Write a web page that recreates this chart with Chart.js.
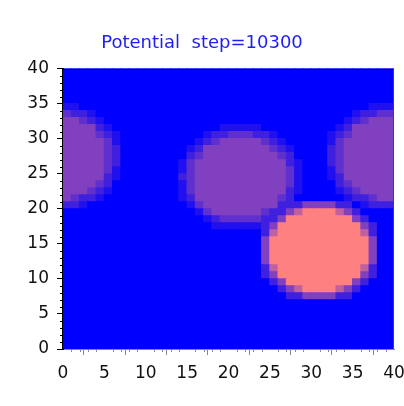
<!DOCTYPE html>
<html><head><meta charset="utf-8">
<script src="https://cdn.jsdelivr.net/npm/chart.js@4.4.0/dist/chart.umd.min.js"></script>
<style>html,body{margin:0;padding:0;background:#fff;}#wrap{width:404px;height:406px;}</style>
</head><body><div id="wrap"><canvas id="c" width="404" height="406"></canvas></div>
<script>
const titleText = 'Potential  step=10300';
const xTicks = [0, 5, 10, 15, 20, 25, 30, 35, 40];
const yTicks = [0, 5, 10, 15, 20, 25, 30, 35, 40];
const gridSize = 40;
const maxLevel = 8;           // 0 = low (blue), 8 = high (salmon)
const lowColor = [0, 0, 255];
const highColor = [255, 128, 128];
// potential levels, one string per grid row, top row (y 39..40) first, x from 0 to 40
const potentialRows = [
  '0000000000 0000000000 0000000000 0000000000',
  '0000000000 0000000000 0000000000 0000000000',
  '0000000000 0000000000 0000000000 0000000000',
  '0000000000 0000000000 0000000000 0000000000',
  '0000000000 0000000000 0000000000 0000000000',
  '1100000000 0000000000 0000000000 0000000111',
  '3221000000 0000000000 0000000000 0000012233',
  '4432100000 0000000000 0000000000 0000123444',
  '4444210000 0000000001 1111000000 0001244444',
  '4444321000 0000000122 3332210000 0012344444',
  '4444431000 0000001234 4444321000 0013444444',
  '4444432000 0000012444 4444432100 0023444444',
  '4444432000 0000023444 4444443200 0023444444',
  '4444432000 0000134444 4444444210 0023444444',
  '4444431000 0000134444 4444444310 0013444444',
  '4444421000 0000234444 4444444310 0012444444',
  '4444320000 0000134444 4444444310 0002344444',
  '4443210000 0000134444 4444444210 0001234444',
  '4322100000 0000124444 4444443200 0000122344',
  '2210000000 0000013444 4444442224 4442201222',
  '0000000000 0000001344 4444322468 8886420000',
  '0000000000 0000000123 3333224888 8888842000',
  '0000000000 0000000011 1111248888 8888884200',
  '0000000000 0000000000 0000268888 8888886200',
  '0000000000 0000000000 0000488888 8888888400',
  '0000000000 0000000000 0000488888 8888888400',
  '0000000000 0000000000 0000488888 8888888400',
  '0000000000 0000000000 0000488888 8888888400',
  '0000000000 0000000000 0000268888 8888886200',
  '0000000000 0000000000 0000248888 8888884200',
  '0000000000 0000000000 0000024888 8888842000',
  '0000000000 0000000000 0000002468 8886420000',
  '0000000000 0000000000 0000000224 4442200000',
  '0000000000 0000000000 0000000000 0000000000',
  '0000000000 0000000000 0000000000 0000000000',
  '0000000000 0000000000 0000000000 0000000000',
  '0000000000 0000000000 0000000000 0000000000',
  '0000000000 0000000000 0000000000 0000000000',
  '0000000000 0000000000 0000000000 0000000000',
  '0000000000 0000000000 0000000000 0000000000'
];

function levelColor(level) {
  const t = level / maxLevel;
  const c = lowColor.map((lo, k) => Math.round(lo + (highColor[k] - lo) * t));
  return 'rgb(' + c.join(',') + ')';
}

const datasets = [];
for (let j = 0; j < gridSize; j++) {
  const row = potentialRows[gridSize - 1 - j].replace(/ /g, '');
  const colors = [];
  const data = [];
  for (let i = 0; i < gridSize; i++) {
    colors.push(levelColor(parseInt(row[i], 10)));
    data.push({ x: i + 0.5, y: 1 });
  }
  datasets.push({ data, backgroundColor: colors, borderWidth: 0, inflateAmount: 0.6,
    barPercentage: 1, categoryPercentage: 1 });
}

const frameAndMinor = {
  id: 'frameAndMinor',
  beforeDatasetsDraw(chart) {
    const { ctx, chartArea: a } = chart;
    ctx.save();
    ctx.fillStyle = levelColor(0);
    ctx.fillRect(a.left, a.top, a.right - a.left, a.bottom - a.top);
    ctx.restore();
  },
  afterDraw(chart) {
    const { ctx, chartArea: a } = chart;
    const xs = chart.scales.x, ys = chart.scales.y;
    ctx.save();
    ctx.lineWidth = 1;
    for (let v = 1; v < gridSize; v++) {
      if (v % 5 === 0) continue;
      const px = Math.round(xs.getPixelForValue(v)) + 0.5;
      ctx.strokeStyle = '#888';
      ctx.beginPath(); ctx.moveTo(px, a.bottom); ctx.lineTo(px, a.bottom + 3); ctx.stroke();
      const py = Math.round(ys.getPixelForValue(v)) + 0.5;
      ctx.strokeStyle = '#000';
      ctx.beginPath(); ctx.moveTo(a.left, py); ctx.lineTo(a.left - 3, py); ctx.stroke();
    }
    ctx.strokeStyle = '#000';
    ctx.beginPath(); ctx.moveTo(a.left, Math.round(a.top) + 0.5); ctx.lineTo(a.right, Math.round(a.top) + 0.5); ctx.stroke();
    ctx.strokeStyle = '#444';
    ctx.beginPath(); ctx.moveTo(Math.round(a.right) - 0.5, a.top); ctx.lineTo(Math.round(a.right) - 0.5, a.bottom); ctx.stroke();
    ctx.restore();
  }
};

const tickFont = { family: 'DejaVu Sans', size: 17 };
new Chart(document.getElementById('c'), {
  type: 'bar',
  data: { datasets },
  options: {
    responsive: false, animation: false, devicePixelRatio: 1,
    layout: { padding: { left: 0, right: 0, top: 0, bottom: 0 } },
    plugins: {
      legend: { display: false }, tooltip: { enabled: false },
      title: { display: true, text: titleText, color: '#1e1ef0',
        font: { family: 'DejaVu Sans', size: 18, weight: 'normal' }, padding: { top: 33, bottom: 14 } }
    },
    scales: {
      x: {
        type: 'linear', min: 0, max: 40, offset: false, stacked: true, z: 1,
        afterFit: s => { s.height = 57; s.paddingRight = 10; s.paddingLeft = 0; },
        afterBuildTicks: s => { s.ticks = xTicks.map(v => ({ value: v })); },
        ticks: { color: '#111', font: tickFont, padding: 8, maxRotation: 0, autoSkip: false },
        grid: { drawOnChartArea: false, tickLength: 6, tickColor: '#888' },
        border: { color: '#888', width: 1 }
      },
      y: {
        type: 'linear', min: 0, max: 40, stacked: true, z: 1,
        afterFit: s => { s.width = 63; },
        afterBuildTicks: s => { s.ticks = yTicks.map(v => ({ value: v })); },
        ticks: { color: '#111', font: tickFont, padding: 8, autoSkip: false },
        grid: { drawOnChartArea: false, tickLength: 6, tickColor: '#000' },
        border: { color: '#000', width: 2 }
      }
    }
  },
  plugins: [frameAndMinor]
});
</script></body></html>
